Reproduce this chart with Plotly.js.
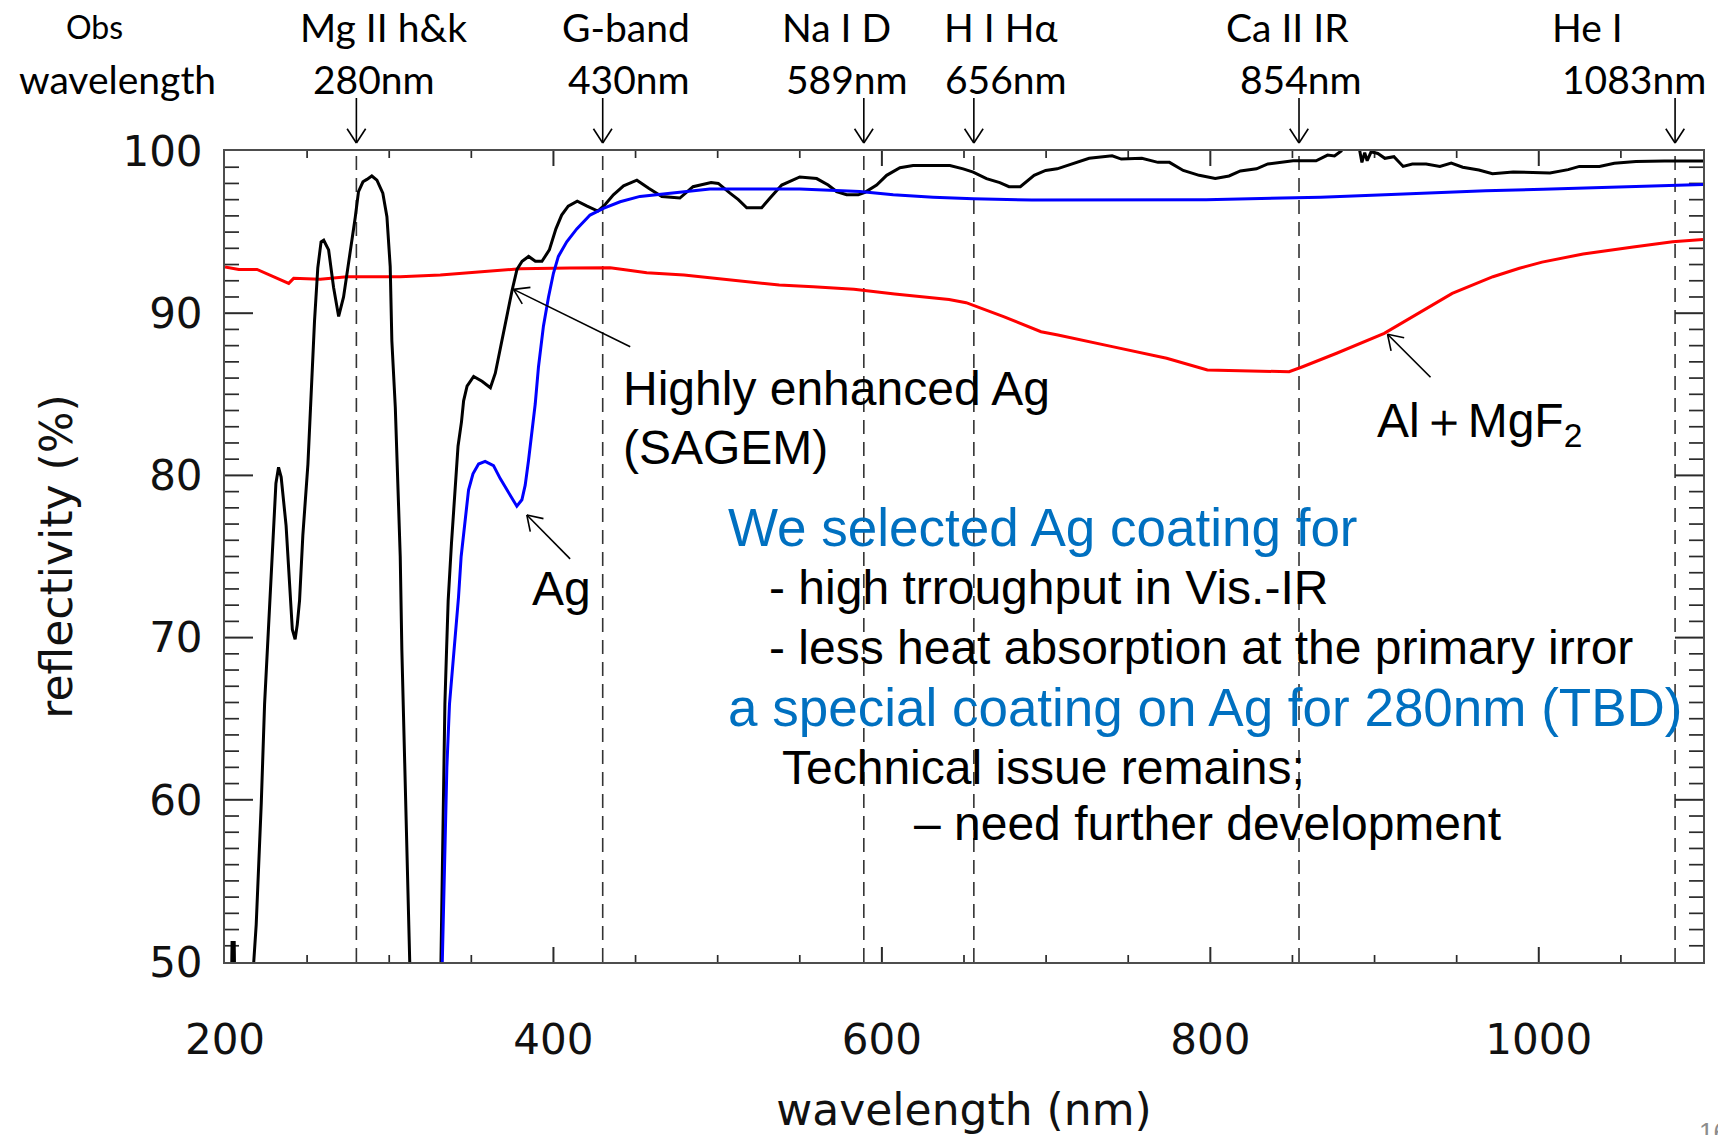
<!DOCTYPE html>
<html>
<head>
<meta charset="utf-8">
<script src="https://cdn.plot.ly/plotly-3.0.1.min.js"></script>
<style>
html,body{margin:0;padding:0;background:#fff;}
#chart{width:1718px;height:1135px;}
</style>
</head>
<body>
<div id="chart"></div>
<script>
// ---------------- data ----------------
// Highly enhanced Ag (SAGEM) - black
const sagemWl = [200,203.6,204.3,205.6,206.3,210,216,217.5,219,222.1,224.1,227.1,229.2,231,232.6,234.2,237.2,239.3,241,242.7,244,245.4,247.4,250.5,252.5,254.5,256.5,258.5,260.1,263.1,266.1,269.2,272.2,276.3,279.3,281.3,284,286.4,289.4,292.5,296.1,298.6,300.6,301.6,303.7,305.7,306.7,307.7,309.2,310.8,312.2,314,320,328,331.5,332.1,333.1,333.9,334.9,335.9,337.9,339.9,341.9,344,345.3,347.4,351.4,356.5,361.6,364.6,367.7,371.7,374.8,377.8,380.9,384.9,389,393,397.5,401.5,405,409,414.5,420.5,427,431.5,436.5,442.7,450.8,458,466,477,485,496,500.4,507.5,512.6,517.7,526.8,531.9,539,550,560.3,567.3,572.4,578.5,585.6,589.7,596.8,602.9,611,619,641.4,649.5,655.6,663.7,671.8,677.4,684.3,692.7,699.7,706.7,715.1,726.2,740.2,745.8,758.3,768.1,775.1,783.5,793.2,803,811.4,818.3,828.1,835,850.4,864.4,871.4,875.6,879.7,883,888,891,892.3,894,895.5,897.9,902,906.3,911.8,917.4,923,931.4,939.8,946.7,953.7,963.5,971.8,984.4,1006.8,1017.9,1024.7,1036.9,1046,1059.2,1076.5,1100];
const sagemR = [40,46,51.2,51.2,46,40,44,50,52.3,59.8,65.9,72.1,76.3,79.5,80.5,79.9,76.9,73.2,70.5,69.9,70.8,72.3,76.3,80.7,85,89.5,92.8,94.4,94.5,93.9,91.6,89.8,91.0,93.7,95.9,97.5,98.1,98.25,98.46,98.2,97.4,95.95,92.87,88.3,84.2,78.1,75.0,69.2,62.6,55.1,50.1,44,35,40,50,53.8,62.6,65.9,69.2,72.3,75.8,79.1,81.8,83.3,84.6,85.5,86.1,85.8,85.4,86.3,87.9,90.0,91.4,92.7,93.2,93.5,93.2,93.2,93.9,95.2,96.05,96.6,96.9,96.6,96.3,96.7,97.3,97.85,98.2,97.7,97.2,97.1,97.8,98.05,98.0,97.4,97.0,96.5,96.5,97.1,97.9,98.4,98.3,97.9,97.5,97.3,97.3,97.45,97.9,98.5,98.97,99.1,99.1,98.9,98.7,98.3,98.05,97.8,97.8,98.5,98.8,98.9,99.2,99.55,99.7,99.5,99.55,99.3,99.3,98.8,98.5,98.3,98.46,98.77,98.9,99.2,99.4,99.4,99.75,99.7,100.0,100.8,100.8,100.0,99.3,99.9,99.4,99.95,99.85,99.55,99.65,99.05,99.2,99.2,99.05,99.25,99.0,98.83,98.6,98.7,98.65,98.85,99.05,99.05,99.25,99.35,99.38,99.38];

// Ag - blue
const agWl = [330,332.5,333.7,335.1,336.7,338.6,340.2,342.2,343.8,345.9,348.3,351,354.4,358.4,363.5,367.6,372.6,377.7,380.8,382.8,384.8,386.9,388.9,390.9,393.9,397,400,403,408.1,414.2,422.3,430.4,440.6,452.7,466.9,481,495.3,550,586.6,606.9,631.2,655.6,691.3,797.4,867.2,906.3,937,967.6,1002.6,1040.2,1079.3,1100];
const agR = [40,50.1,56.5,62.0,65.9,68.1,69.7,72.5,75.0,76.9,79.1,80.1,80.7,80.86,80.6,79.8,79.0,78.1,78.5,79.4,80.9,82.6,84.4,86.7,89.2,91.0,92.46,93.5,94.4,95.2,96.05,96.46,96.87,97.2,97.35,97.5,97.65,97.65,97.5,97.3,97.15,97.05,96.98,97.0,97.15,97.3,97.43,97.55,97.64,97.74,97.85,97.93];

// Al + MgF2 - red
const alWl = [200,208.4,219.5,229.6,236,238.8,241.8,258,274.3,306.7,331.1,351.3,367.6,379.7,410,434.5,444.7,456.8,479.5,508.5,537.5,558.2,583,607.8,640.9,651.3,674.1,696.9,707.2,740.3,773.4,798.2,848,856.2,876.9,905.9,926.6,947.3,972.1,988.2,1002,1027,1057.5,1081.5,1100];
const alR = [92.85,92.7,92.7,92.25,91.95,91.84,92.15,92.1,92.25,92.25,92.35,92.5,92.62,92.74,92.78,92.8,92.66,92.5,92.35,92.05,91.74,91.63,91.47,91.18,90.85,90.65,89.79,88.86,88.66,87.94,87.22,86.5,86.39,86.7,87.53,88.76,89.99,91.22,92.25,92.77,93.15,93.65,94.08,94.41,94.55];

// observed spectral lines
const lineNames  = ["Mg II h&k", "G-band", "Na I D", "H I H\u03b1", "Ca II IR", "He I"];
const lineLabels = ["280nm", "430nm", "589nm", "656nm", "854nm", "1083nm"];
const lineWl     = [280, 430, 589, 656, 854, 1083];

// axis ranges / tick spacing
const xRange = [200, 1100], xMajor = 200, xMinor = 50;
const yRange = [50, 100],   yMajor = 10,  yMinor = 1;

// ---------------- styles / positions ----------------
const W = 1718, H = 1135, M = {l: 225, r: 15, t: 151, b: 173};
const nameShift  = [27, 23, -27, 27, -12, -88];   // px offsets of label rows
const labelShift = [18, 26, -17, 32, 2, -41];
const ROW1_Y = 1.1529, ROW2_Y = 1.0888, TIP_Y = 1.0099, TOP_ARROW_LEN = 45;
const ARM_LEN = 17, ARM_ANG = 33 * Math.PI / 180;
const topFont = 'Lato, "Open Sans", sans-serif';
const noteFont = '"Liberation Sans", Arial, sans-serif';
const axisFont = '"DejaVu Sans", sans-serif';
const TICK_COLOR = '#2a2a2a';
const X_MAJ_LEN = 15, X_MIN_LEN = 7, Y_MAJ_LEN = 28, Y_MIN_LEN = 14;

// inside box ticks on all four sides, as line segments in axis units
const xPerPx = (xRange[1] - xRange[0]) / (W - M.l - M.r);
const yPerPx = (yRange[1] - yRange[0]) / (H - M.t - M.b);
function near(v, step) { return Math.abs(v / step - Math.round(v / step)) < 1e-6; }
const tickSeg = {major: {x: [], y: []}, minor: {x: [], y: []}};
for (let v = xRange[0] + xMinor; v < xRange[1] - 1e-6; v += xMinor) {
  const major = near(v, xMajor), s = tickSeg[major ? 'major' : 'minor'];
  const d = (major ? X_MAJ_LEN : X_MIN_LEN) * yPerPx;
  s.x.push(v, v, null, v, v, null);
  s.y.push(yRange[0], yRange[0] + d, null, yRange[1], yRange[1] - d, null);
}
for (let v = yRange[0] + yMinor; v < yRange[1] - 1e-6; v += yMinor) {
  const major = near(v, yMajor), s = tickSeg[major ? 'major' : 'minor'];
  const d = (major ? Y_MAJ_LEN : Y_MIN_LEN) * xPerPx;
  s.x.push(xRange[0], xRange[0] + d, null, xRange[1], xRange[1] - d, null);
  s.y.push(v, v, null, v, v, null);
}

const shapes = [];
const annotations = [];

// dashed vertical marker lines
lineWl.forEach(w => shapes.push({
  type: 'line', xref: 'x', yref: 'paper', x0: w, x1: w, y0: 0, y1: 1, layer: 'below',
  line: {color: '#333', width: 1.6, dash: '14px,8px'}
}));

// arrow made of three pixel-sized line shapes: shaft + two arms (tip anchored)
function pointer(xref, yref, xa, ya, dx, dy) {
  const L = Math.hypot(dx, dy), ux = dx / L, uy = dy / L;
  const segs = [[dx, dy]];
  [1, -1].forEach(s => {
    const a = s * ARM_ANG;
    const rx = ux * Math.cos(a) - uy * Math.sin(a);
    const ry = ux * Math.sin(a) + uy * Math.cos(a);
    segs.push([rx * ARM_LEN, ry * ARM_LEN]);
  });
  segs.forEach(([ex, ey]) => shapes.push({
    type: 'line', xref: xref, yref: yref, xsizemode: 'pixel', ysizemode: 'pixel',
    xanchor: xa, yanchor: ya, x0: 0, y0: 0, x1: ex, y1: -ey,
    line: {color: '#000', width: 1.6}
  }));
}

lineWl.forEach((w, i) => {
  pointer('x', 'paper', w, TIP_Y, 0, -TOP_ARROW_LEN);
  annotations.push({xref: 'x', yref: 'paper', x: w, y: ROW1_Y, xshift: nameShift[i], text: lineNames[i],
    showarrow: false, xanchor: 'center', yanchor: 'middle', font: {family: topFont, size: 39, color: '#000'}});
  annotations.push({xref: 'x', yref: 'paper', x: w, y: ROW2_Y, xshift: labelShift[i], text: lineLabels[i],
    showarrow: false, xanchor: 'center', yanchor: 'middle', font: {family: topFont, size: 39, color: '#000'}});
});
annotations.push({xref: 'paper', yref: 'paper', x: -0.0881, y: ROW1_Y, text: 'Obs', showarrow: false,
  xanchor: 'center', yanchor: 'middle', font: {family: topFont, size: 32, color: '#000'}});
annotations.push({xref: 'paper', yref: 'paper', x: -0.0725, y: ROW2_Y, text: 'wavelength', showarrow: false,
  xanchor: 'center', yanchor: 'middle', font: {family: topFont, size: 39, color: '#000'}});

// pointer arrows to the curves
pointer('x', 'y', 375.7, 91.47, 116.7, 57.4);
pointer('x', 'y', 383.8, 77.56, 43.3, 43.9);
pointer('x', 'y', 907.9, 88.7, 43, 43);

function note(text, x, y, color, size) {
  annotations.push({xref: 'x', yref: 'y', x: x, y: y, text: text, showarrow: false,
    xanchor: 'left', yanchor: 'middle', align: 'left',
    font: {family: noteFont, size: size, color: color}});
}
note('Highly enhanced Ag', 441.2, 85.33, '#000', 48);
note('(SAGEM)', 441.2, 81.75, '#000', 48);
note('Ag', 385.8, 73.03, '#000', 48);
note('Al\uFF0BMgF<sub>2</sub>', 900.0, 83.2, '#000', 48);
note('We selected Ag coating for', 505.1, 76.76, '#0070C0', 53);
note('- high trroughput in Vis.-IR', 530.0, 73.06, '#000', 48);
note('- less heat absorption at the primary irror', 530.0, 69.38, '#000', 48);
note('a special coating on Ag for 280nm (TBD)', 505.1, 65.66, '#0070C0', 53);
note('Technical issue remains;', 537.9, 62.02, '#000', 48);
note('\u2013 need further development', 618.2, 58.51, '#000', 48);

// slide page number (cut at the edge, as in the slide)
annotations.push({xref: 'paper', yref: 'paper', x: 0.996, y: -0.2096, text: '16', showarrow: false,
  xanchor: 'left', yanchor: 'middle', font: {family: noteFont, size: 26, color: '#8c8c8c'}});

const traces = [
  {x: tickSeg.minor.x, y: tickSeg.minor.y, type: 'scatter', mode: 'lines', hoverinfo: 'skip',
   line: {color: TICK_COLOR, width: 1.7}, name: 'minor ticks'},
  {x: tickSeg.major.x, y: tickSeg.major.y, type: 'scatter', mode: 'lines', hoverinfo: 'skip',
   line: {color: TICK_COLOR, width: 2}, name: 'major ticks'},
  {x: alWl, y: alR, type: 'scatter', mode: 'lines', line: {color: '#ff0000', width: 3}, name: 'Al+MgF2'},
  {x: sagemWl, y: sagemR, type: 'scatter', mode: 'lines', line: {color: '#000000', width: 3}, name: 'Highly enhanced Ag'},
  {x: agWl, y: agR, type: 'scatter', mode: 'lines', line: {color: '#0000ff', width: 3}, name: 'Ag'}
];

const axisCommon = {
  showline: true, linecolor: '#4d4d4d', linewidth: 2, mirror: true,
  ticks: '', showgrid: false, zeroline: false, automargin: false,
  tickfont: {family: axisFont, size: 42, color: '#111'}
};

const layout = {
  width: W, height: H,
  margin: {l: M.l, r: M.r, t: M.t, b: M.b, pad: 0},
  paper_bgcolor: '#fff', plot_bgcolor: '#fff',
  showlegend: false,
  xaxis: Object.assign({}, axisCommon, {
    range: xRange, tickmode: 'linear', tick0: 0, dtick: xMajor, ticklabelstandoff: 40,
    title: {text: 'wavelength (nm)', font: {family: axisFont, size: 44, color: '#111'}, standoff: 36}
  }),
  yaxis: Object.assign({}, axisCommon, {
    range: yRange, tickmode: 'linear', tick0: 0, dtick: yMajor, ticklabelstandoff: 12,
    title: {text: 'reflectivity (%)', font: {family: axisFont, size: 44, color: '#111'}, standoff: 36}
  }),
  shapes: shapes,
  annotations: annotations
};

Plotly.newPlot('chart', traces, layout, {staticPlot: true, displayModeBar: false});
</script>
</body>
</html>
